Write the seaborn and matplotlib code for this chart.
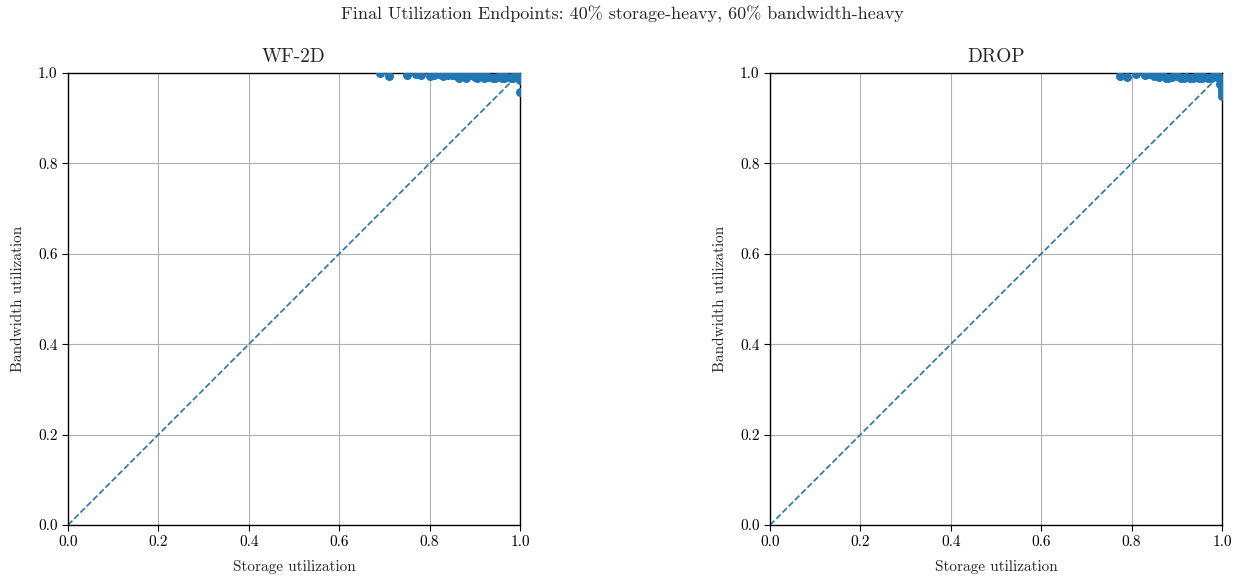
import matplotlib
matplotlib.use("Agg")
import matplotlib.pyplot as plt
import seaborn as sns
import pandas as pd

# WF-2D final utilization endpoints
wf_storage = [0.69, 0.71, 0.75, 0.77, 0.78, 0.80, 0.81, 0.82, 0.83, 0.84, 0.85, 0.86,
              0.87, 0.88, 0.89, 0.90, 0.91, 0.92, 0.93, 0.94, 0.95, 0.96, 0.97, 0.98,
              0.99, 1.00, 1.00, 1.00, 1.00, 0.84, 0.88, 0.92, 0.96, 0.99, 0.995,
              0.865, 0.905, 0.925, 0.945, 0.965, 0.985]
wf_bandwidth = [1.000, 0.993, 0.995, 0.997, 0.996, 0.993, 0.996, 0.997, 0.994, 0.996,
                0.995, 0.993, 0.994, 0.990, 0.995, 0.992, 0.994, 0.990, 0.991, 0.989,
                0.991, 0.990, 0.992, 0.989, 0.991, 0.995, 0.990, 0.985, 0.958, 0.999,
                0.999, 0.999, 0.999, 0.999, 0.998, 0.990, 0.989, 0.991, 0.990, 0.989,
                0.990]

# DROP final utilization endpoints
drop_storage = [0.775, 0.79, 0.81, 0.83, 0.84, 0.85, 0.86, 0.87, 0.88, 0.89, 0.90,
                0.91, 0.92, 0.93, 0.94, 0.95, 0.96, 0.97, 0.98, 0.99, 1.00, 1.00,
                1.00, 1.00, 1.00, 1.00, 1.00, 1.00, 0.995, 0.85, 0.90, 0.95, 0.99,
                0.875, 0.915, 0.935, 0.955, 0.975]
drop_bandwidth = [0.993, 0.992, 0.998, 0.995, 0.997, 0.994, 0.992, 0.995, 0.990,
                  0.992, 0.994, 0.990, 0.992, 0.990, 0.992, 0.989, 0.991, 0.990,
                  0.993, 0.991, 0.990, 0.985, 0.980, 0.975, 0.970, 0.965, 0.958,
                  0.950, 0.975, 0.999, 0.999, 0.999, 0.999, 0.990, 0.989, 0.990,
                  0.990, 0.989]

panels = ["WF-2D", "DROP"]
xlabel = "Storage utilization"
ylabel = "Bandwidth utilization"
suptitle = "Final Utilization Endpoints: 40% storage-heavy, 60% bandwidth-heavy"
ticks = [0.0, 0.2, 0.4, 0.6, 0.8, 1.0]

sns.set_style("ticks")
plt.rcParams["font.family"] = ["cmr10", "DejaVu Serif"]
plt.rcParams["axes.formatter.use_mathtext"] = True
plt.rcParams["mathtext.fontset"] = "cm"

fig = plt.figure(figsize=(12.45, 5.78), dpi=100)
ax1 = fig.add_axes([68 / 1245, 1 - 525 / 578, 452 / 1245, 452 / 578])
ax2 = fig.add_axes([770 / 1245, 1 - 525 / 578, 452 / 1245, 452 / 578])

data = [(wf_storage, wf_bandwidth), (drop_storage, drop_bandwidth)]
color = "#1f77b4"
for ax, name, (xs, ys) in zip([ax1, ax2], panels, data):
    df = pd.DataFrame({"s": xs, "b": ys})
    ax.grid(True, color="#b0b0b0", linewidth=0.8)
    ax.set_axisbelow(True)
    sns.scatterplot(data=df, x="s", y="b", ax=ax, color=color, s=42,
                    edgecolor=color, linewidth=0, zorder=3)
    ax.plot([0, 1], [0, 1], linestyle="--", color=color, linewidth=1.2, zorder=2)
    ax.set_xlim(0, 1)
    ax.set_ylim(0, 1)
    ax.set_xticks(ticks)
    ax.set_yticks(ticks)
    ax.set_xticklabels([f"{t:.1f}" for t in ticks], fontsize=11)
    ax.set_yticklabels([f"{t:.1f}" for t in ticks], fontsize=11)
    ax.set_xlabel(xlabel, fontsize=11, labelpad=8)
    ax.set_ylabel(ylabel, fontsize=11, labelpad=9)
    ax.set_title(name, fontsize=14, pad=8)
    for sp in ax.spines.values():
        sp.set_visible(True)
        sp.set_color("black")
        sp.set_linewidth(1.0)
    ax.tick_params(direction="out", length=4, width=0.8, colors="black")

fig.suptitle(suptitle, fontsize=13, y=0.99)
fig.savefig("out.png", dpi=100)
